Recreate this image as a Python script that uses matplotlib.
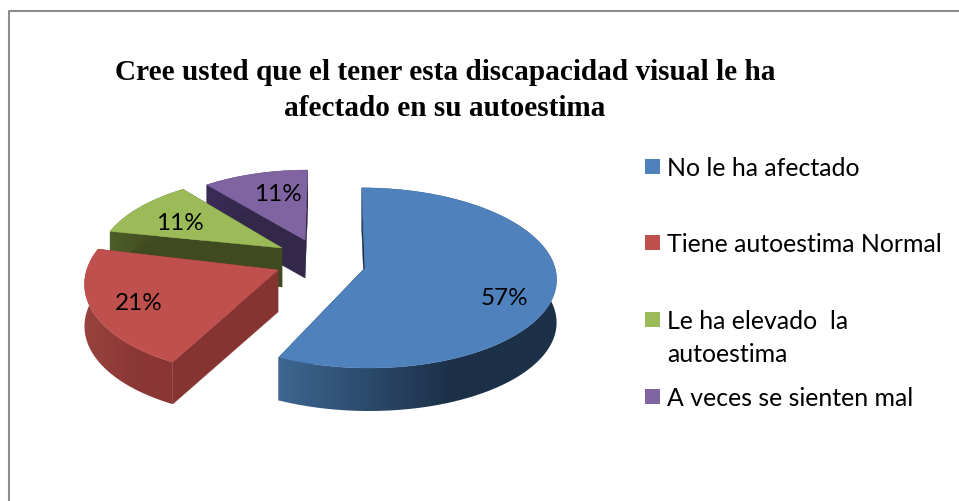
import numpy as np
import matplotlib
matplotlib.use("Agg")
import matplotlib.pyplot as plt
from matplotlib.patches import Polygon, Rectangle

# ---- data ----
title_lines = ["Cree usted que el tener esta discapacidad visual le ha",
               "afectado en su autoestima"]
categories = ["No le ha afectado", "Tiene autoestima Normal",
              "Le ha elevado  la\nautoestima", "A veces se sienten mal"]
values = [57, 21, 11, 11]

# ---- styles / layout (pixel space) ----
top_colors = ["#4f81bd", "#c0504d", "#9bbb59", "#8064a2"]
wall_colors = ["#1e344d", "#863432", "#404a20", "#33274a"]
band_from = ["#3d6690", "#98433f", "#4f5f28", "#3a2c55"]
band_to = ["#1c3048", "#8a3634", "#404a20", "#33274a"]
apex_px = [(365, 269), (278, 271), (282, 249), (305, 241)]
scale_of = [1.0, 1.0, 0.95, 0.90]
yscale_of = [1.0, 1.05, 0.96, 0.97]
shear_of = [0.04, -0.165, -0.12, -0.04]
tilt_of = [0.0, 0.02, 0.01, 0.0]
depth_of = [43, 42, 39, 38]
label_px = [(504, 299), (138.5, 304), (180, 224), (278, 195)]
legend_y = [167.5, 243.5, 320.5, 397.5]

PERSP, RX, RY = 0.11, 190, 89


def project(theta, i):
    """Clockwise-from-top angle (deg) to pixel position on slice i's top face."""
    t = np.radians(theta)
    u, v = np.sin(t), np.cos(t)
    w = 1 + PERSP * v
    s = scale_of[i]
    y0 = -RY * v / w * s * yscale_of[i]
    x0 = RX * u / w * s
    x = x0 + shear_of[i] * y0
    y = y0 + tilt_of[i] * x0
    return apex_px[i][0] + x, apex_px[i][1] + y


fig = plt.figure(figsize=(9.59, 5.02), dpi=100)
ax = fig.add_axes([0, 0, 1, 1])
ax.axis("off")

# chart frame
ax.plot([8.5, 8.5, 959], [502, 12, 12], color="#8c8c8c", lw=1.5, zorder=1)

bounds = np.cumsum([0] + values) / sum(values) * 360
to_rgb = matplotlib.colors.to_rgb
for i in range(len(values) - 1, -1, -1):
    z = 10 + (len(values) - i) * 3
    t1, t2 = bounds[i], bounds[i + 1]
    th = np.linspace(t1, t2, 160)
    xs, ys = project(th, i)
    ax_, ay_ = apex_px[i]
    d = depth_of[i]
    # radial walls
    for tt in (t1, t2):
        px, py = project(tt, i)
        ax.add_patch(Polygon([(ax_, ay_), (px, py), (px, py + d), (ax_, ay_ + d)],
                             fc=wall_colors[i], ec=wall_colors[i], lw=0.3, zorder=z))
    # outer rim, horizontal shading clipped to the rim outline
    xmin, xmax = xs.min(), xs.max()
    c0, c1 = np.array(to_rgb(band_from[i])), np.array(to_rgb(band_to[i]))
    f = np.clip(np.linspace(0, 1, 256) / 0.62, 0, 1)[:, None]
    grad = (c0 + (c1 - c0) * f)[None, :, :]
    rim = Polygon(np.r_[np.c_[xs, ys], np.c_[xs, ys + d][::-1]], fc="none", ec="none",
                  zorder=z + 1)
    ax.add_patch(rim)
    im = ax.imshow(grad, extent=(xmin, xmax, ys.max() + d, ys.min()), aspect="auto",
                   interpolation="bilinear", zorder=z + 1)
    im.set_clip_path(rim)
    # top face
    ax.add_patch(Polygon(np.r_[[(ax_, ay_)], np.c_[xs, ys]], fc=top_colors[i],
                         ec=top_colors[i], lw=0.3, zorder=z + 2))

ax.set_xlim(0, 959)
ax.set_ylim(502, 0)
ax.set_aspect("auto")

# percent labels
total = sum(values)
for v, (lx, ly) in zip(values, label_px):
    ax.text(lx, ly, f"{round(100 * v / total)}%", ha="center", va="center",
            family="Lato", fontsize=17.5, color="black", zorder=40)

# title
for line, ty in zip(title_lines, [73, 108]):
    ax.text(445, ty, line, ha="center", va="center", family="Liberation Serif",
            weight="bold", fontsize=21.1, color="black", zorder=40)

# legend
for name, col, ly in zip(categories, top_colors, legend_y):
    ax.add_patch(Rectangle((645, ly - 7.5), 15, 15, fc=col, ec="none", zorder=40))
    lines = name.split("\n")
    for j, ln in enumerate(lines):
        ax.text(667, ly + 1 + j * 33, ln, ha="left", va="center", family="Lato",
                fontsize=17.9, color="black", zorder=40)

fig.savefig("out.png", dpi=100, facecolor="white")
